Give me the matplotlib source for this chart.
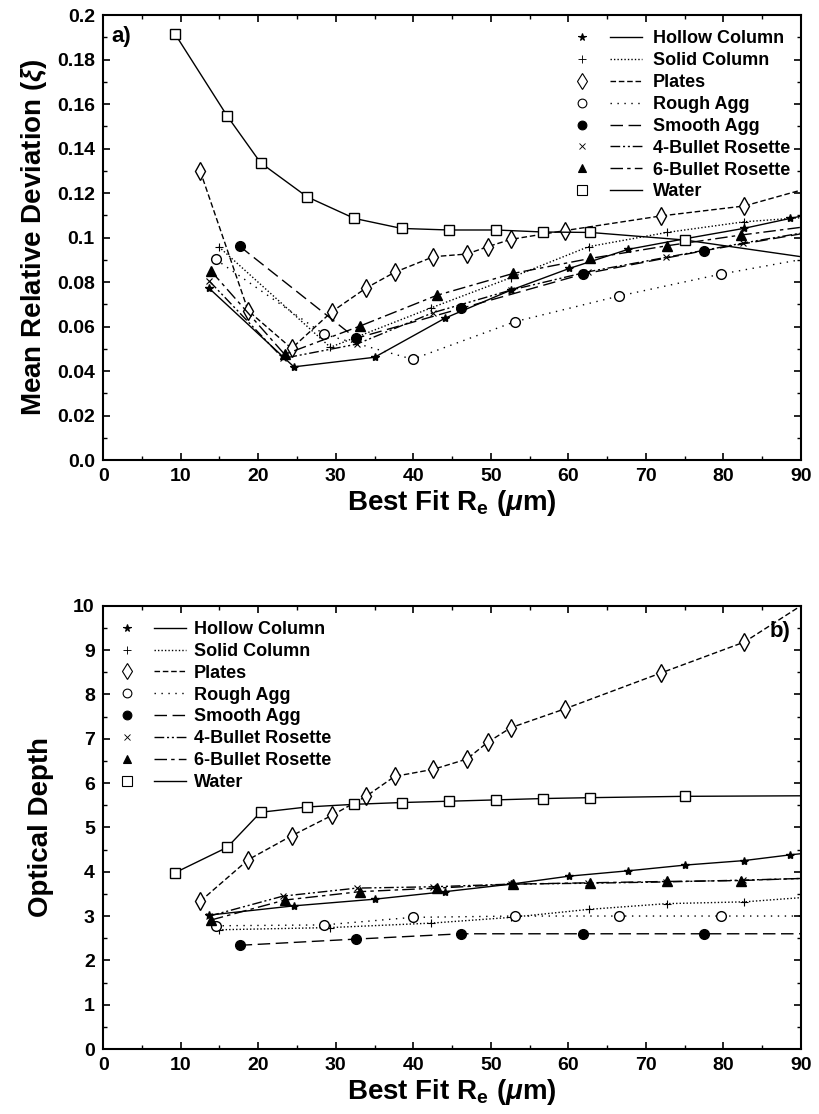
import matplotlib
matplotlib.use('Agg')
import matplotlib.pyplot as plt
from matplotlib.lines import Line2D
from matplotlib.legend_handler import HandlerTuple
from matplotlib.ticker import MultipleLocator

plt.rcParams['font.family'] = ['Liberation Sans', 'DejaVu Sans']
plt.rcParams['font.weight'] = 'bold'
plt.rcParams['mathtext.fontset'] = 'custom'
plt.rcParams['mathtext.rm'] = 'Liberation Sans:bold'
plt.rcParams['mathtext.bf'] = 'Liberation Sans:bold'
plt.rcParams['mathtext.it'] = 'Liberation Sans:italic'

##### DATA #####
names = ['Hollow Column', 'Solid Column', 'Plates', 'Rough Agg', 'Smooth Agg',
         '4-Bullet Rosette', '6-Bullet Rosette', 'Water']

x_hollow = [13.6, 24.6, 35.0, 44.1, 52.6, 60.1, 67.7, 75.1, 82.6, 88.6, 95.0]
dev_hollow = [0.0774, 0.0419, 0.0462, 0.0638, 0.0764, 0.0861, 0.0947, 0.0995, 0.1041, 0.1086, 0.1133]
tau_hollow = [3.02, 3.23, 3.38, 3.55, 3.72, 3.90, 4.02, 4.15, 4.25, 4.38, 4.50]

x_solid = [14.9, 29.3, 42.3, 52.6, 62.6, 72.7, 82.7, 92.7]
dev_solid = [0.0959, 0.0507, 0.0684, 0.0820, 0.0959, 0.1023, 0.1071, 0.1096]
tau_solid = [2.69, 2.74, 2.84, 2.97, 3.15, 3.28, 3.32, 3.45]

x_plates = [12.5, 18.7, 24.3, 29.5, 33.9, 37.6, 42.6, 46.9, 49.6, 52.6, 59.5, 71.9, 82.7, 95.0]
dev_plates = [0.130, 0.0671, 0.0502, 0.0667, 0.0773, 0.0844, 0.0914, 0.0926, 0.0959, 0.0992,
              0.1031, 0.1097, 0.1142, 0.1262]
tau_plates = [3.33, 4.27, 4.81, 5.27, 5.70, 6.15, 6.31, 6.54, 6.92, 7.25, 7.67, 8.48, 9.18, 10.56]

x_rough = [14.5, 28.5, 39.9, 53.1, 66.5, 79.7, 93.0]
dev_rough = [0.0902, 0.0565, 0.0453, 0.0622, 0.0737, 0.0836, 0.0920]
tau_rough = [2.78, 2.80, 2.97, 3.00, 3.00, 3.00, 3.00]

x_smooth = [17.6, 32.6, 46.2, 61.9, 77.5, 93.0]
dev_smooth = [0.0961, 0.0547, 0.0682, 0.0836, 0.0941, 0.1035]
tau_smooth = [2.34, 2.48, 2.60, 2.60, 2.60, 2.60]

x_bullet4 = [13.7, 23.2, 32.7, 42.5, 52.6, 62.5, 72.6, 82.5, 92.5]
dev_bullet4 = [0.0804, 0.0457, 0.0521, 0.0662, 0.0764, 0.0846, 0.0911, 0.0975, 0.1035]
tau_bullet4 = [3.00, 3.45, 3.63, 3.66, 3.72, 3.74, 3.77, 3.81, 3.86]

x_bullet6 = [13.9, 23.4, 33.1, 43.0, 52.9, 62.8, 72.7, 82.2, 92.0]
dev_bullet6 = [0.0850, 0.0475, 0.0602, 0.0740, 0.0839, 0.0906, 0.0963, 0.1011, 0.1055]
tau_bullet6 = [2.91, 3.36, 3.55, 3.63, 3.72, 3.75, 3.78, 3.80, 3.86]

x_water = [9.3, 16.0, 20.3, 26.3, 32.4, 38.5, 44.6, 50.7, 56.7, 62.8, 75.0, 100.0]
dev_water = [0.1913, 0.1546, 0.1336, 0.1183, 0.1086, 0.1041, 0.1034, 0.1034, 0.1025, 0.1023, 0.0989, 0.0864]
tau_water = [3.98, 4.55, 5.34, 5.46, 5.52, 5.56, 5.59, 5.62, 5.65, 5.67, 5.70, 5.72]
##### ENDDATA #####

xs = [x_hollow, x_solid, x_plates, x_rough, x_smooth, x_bullet4, x_bullet6, x_water]
devs = [dev_hollow, dev_solid, dev_plates, dev_rough, dev_smooth, dev_bullet4, dev_bullet6, dev_water]
taus = [tau_hollow, tau_solid, tau_plates, tau_rough, tau_smooth, tau_bullet4, tau_bullet6, tau_water]

# marker, size, filled, linestyle
styles = [
    ('*', 6, True, '-'),
    ('+', 6, False, (0, (1, 1.5))),
    ('d', 9, False, (0, (4, 2))),
    ('o', 7, False, (0, (1, 4))),
    ('o', 7, True, (0, (9, 4))),
    ('x', 4.5, False, (0, (7, 2, 1.5, 2, 1.5, 2))),
    ('^', 6.5, True, (0, (9, 3, 2.5, 3))),
    ('s', 7.5, False, '-'),
]

fig = plt.figure(figsize=(8.19, 11.14), dpi=100)
ax1 = fig.add_axes([0.126, 0.587, 0.852, 0.3995])
ax2 = fig.add_axes([0.126, 0.0583, 0.852, 0.398])


def draw(ax, ys):
    handles = []
    for i in range(len(names)):
        m, ms, filled, ls = styles[i]
        fc = 'black' if filled else 'white'
        if m in ('+', 'x', '*'):
            fc = 'black'
        mw = 1.0 if m not in ('+', 'x') else 0.8
        ax.plot(xs[i], ys[i], color='black', lw=1.0, ls=ls, marker=m, ms=ms,
                mfc=fc, mec='black', mew=mw)
        hm = Line2D([], [], ls='none', marker=m, ms=ms * 0.9, mfc=fc, mec='black', mew=mw * 0.8)
        hl = Line2D([], [], color='black', lw=1.0, ls=ls)
        handles.append((hm, hl))
    return handles


def style(ax):
    ax.set_xlim(0, 90)
    ax.xaxis.set_major_locator(MultipleLocator(10))
    ax.xaxis.set_minor_locator(MultipleLocator(5))
    ax.tick_params(which='both', direction='in', top=True, right=True, labelsize=14, pad=6)
    ax.tick_params(which='major', length=5, width=1.2)
    ax.tick_params(which='minor', length=3, width=1.0)
    for s in ax.spines.values():
        s.set_linewidth(1.5)
    for lab in ax.get_xticklabels() + ax.get_yticklabels():
        lab.set_fontweight('bold')
    ax.set_xlabel(r'Best Fit R$_{\mathbf{e}}$ ($\mu$m)', fontsize=20, fontweight='bold', labelpad=2)


h1 = draw(ax1, devs)
ax1.set_ylim(0, 0.2)
ax1.yaxis.set_minor_locator(MultipleLocator(0.01))
ax1.set_yticks([0.0, 0.02, 0.04, 0.06, 0.08, 0.1, 0.12, 0.14, 0.16, 0.18, 0.2])
ax1.set_yticklabels(['0.0', '0.02', '0.04', '0.06', '0.08', '0.1', '0.12', '0.14', '0.16', '0.18', '0.2'])
style(ax1)
ax1.set_ylabel(r'Mean Relative Deviation ($\xi$)', fontsize=20, fontweight='bold', labelpad=6)
ax1.text(0.012, 0.975, 'a)', transform=ax1.transAxes, fontsize=16, fontweight='bold', va='top')
ax1.legend(h1, names, handler_map={tuple: HandlerTuple(ndivide=None, pad=0.6)},
           loc='upper right', bbox_to_anchor=(1.0, 0.99), frameon=False, fontsize=13,
           handlelength=4.2, handletextpad=0.6, labelspacing=0.27, borderaxespad=0.2)

h2 = draw(ax2, taus)
ax2.set_ylim(0, 10)
ax2.yaxis.set_major_locator(MultipleLocator(1))
ax2.yaxis.set_minor_locator(MultipleLocator(0.5))
style(ax2)
ax2.set_ylabel('Optical Depth', fontsize=20, fontweight='bold', labelpad=14)
ax2.text(0.985, 0.965, 'b)', transform=ax2.transAxes, fontsize=16, fontweight='bold',
         va='top', ha='right')
ax2.legend(h2, names, handler_map={tuple: HandlerTuple(ndivide=None, pad=0.6)},
           loc='upper left', bbox_to_anchor=(-0.005, 0.99), frameon=False, fontsize=13,
           handlelength=4.2, handletextpad=0.4, labelspacing=0.27, borderaxespad=0.2)

fig.savefig('out.png', dpi=100)
